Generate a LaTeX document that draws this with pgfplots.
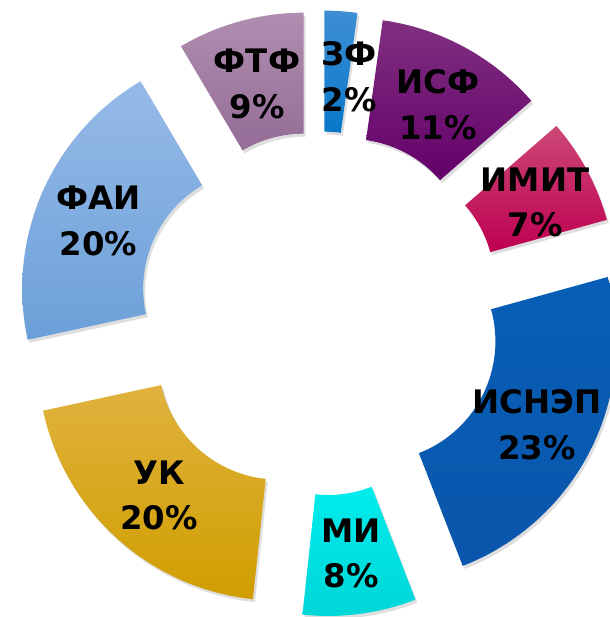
\documentclass[border=0pt]{standalone}
\usepackage{pgfplots}
\pgfplotsset{compat=1.18}
\usepackage{fontspec}
\setmainfont{DejaVu Sans}

\definecolor{zfT}{RGB}{62,142,212}\definecolor{zfB}{RGB}{8,120,200}
\definecolor{isfT}{RGB}{128,48,128}\definecolor{isfB}{RGB}{100,0,106}
\definecolor{imT}{RGB}{204,72,118}\definecolor{imB}{RGB}{190,0,82}
\definecolor{isnT}{RGB}{8,94,182}\definecolor{isnB}{RGB}{10,86,172}
\definecolor{miT}{RGB}{0,236,236}\definecolor{miB}{RGB}{0,214,216}
\definecolor{ukT}{RGB}{224,178,62}\definecolor{ukB}{RGB}{208,158,0}
\definecolor{faT}{RGB}{150,186,232}\definecolor{faB}{RGB}{108,160,216}
\definecolor{ftT}{RGB}{176,142,176}\definecolor{ftB}{RGB}{148,108,150}

% geometry (picture units = bp)
\def\cx{320}\def\cy{303.5}\def\dx{62}\def\ri{120}\def\ro{241}
\def\cum{0}
% one exploded doughnut segment: #1 share in percent, #2/#3 top/bottom colour
\newcommand\seg[3]{%
  \pgfmathsetmacro\sa{3.6*\cum}%
  \pgfmathsetmacro\sb{3.6*(\cum+#1)}%
  \pgfmathsetmacro\newcum{\cum+#1}%
  \xdef\cum{\newcum}%
  \pgfmathsetmacro\sm{(\sa+\sb)/2}%
  \pgfmathsetmacro\px{\cx+\dx*sin(\sm)}%
  \pgfmathsetmacro\py{\cy+\dx*cos(\sm)}%
  \pgfmathsetmacro\qx{\px+2}%
  \pgfmathsetmacro\qy{\py-3}%
  \edef\tmp{\noexpand\addplot[draw=none, fill=black, fill opacity=0.13,
     domain=0:3, samples=151, variable=\noexpand\t]
   ({\qx+(\ro-(\ro-\ri)*min(max(\noexpand\t-1,0),1))*sin(\sa+(\sb-\sa)*min(\noexpand\t,1)-(\sb-\sa)*max(\noexpand\t-2,0))},
    {\qy+(\ro-(\ro-\ri)*min(max(\noexpand\t-1,0),1))*cos(\sa+(\sb-\sa)*min(\noexpand\t,1)-(\sb-\sa)*max(\noexpand\t-2,0))});
   \noexpand\addplot[draw=none, top color=#2, bottom color=#3,
     domain=0:3, samples=151, variable=\noexpand\t]
   ({\px+(\ro-(\ro-\ri)*min(max(\noexpand\t-1,0),1))*sin(\sa+(\sb-\sa)*min(\noexpand\t,1)-(\sb-\sa)*max(\noexpand\t-2,0))},
    {\py+(\ro-(\ro-\ri)*min(max(\noexpand\t-1,0),1))*cos(\sa+(\sb-\sa)*min(\noexpand\t,1)-(\sb-\sa)*max(\noexpand\t-2,0))});}%
  \tmp
}

\begin{document}
\begin{tikzpicture}
\begin{axis}[name=ax, hide axis, scale only axis, width=610bp, height=617bp,
  xmin=0, xmax=610, ymin=0, ymax=617, clip=true]
% shares (percent), clockwise from 12 o'clock
\seg{2.2}{zfT}{zfB}    % ЗФ
\seg{11.4}{isfT}{isfB} % ИСФ
\seg{7.1}{imT}{imB}    % ИМИТ
\seg{23.4}{isnT}{isnB} % ИСНЭП
\seg{7.6}{miT}{miB}    % МИ
\seg{19.9}{ukT}{ukB}   % УК
\seg{19.9}{faT}{faB}   % ФАИ
\seg{8.5}{ftT}{ftB}    % ФТФ
\begin{scope}[every node/.style={align=center, text=black,
   font=\fontsize{32.5}{46}\selectfont\bfseries}]
\node at (axis cs:349,540) {ЗФ\\2\%};
\node at (axis cs:438,512) {ИСФ\\11\%};
\node at (axis cs:535,414.5) {ИМИТ\\7\%};
\node at (axis cs:537,192) {ИСНЭП\\23\%};
\node at (axis cs:351,63.5) {МИ\\8\%};
\node at (axis cs:159,121.5) {УК\\20\%};
\node at (axis cs:98.5,396) {ФАИ\\20\%};
\node at (axis cs:257,533) {ФТФ\\9\%};
\end{scope}
\end{axis}
\pgfresetboundingbox
\path (ax.south west) rectangle (ax.north east);
\end{tikzpicture}
\end{document}
